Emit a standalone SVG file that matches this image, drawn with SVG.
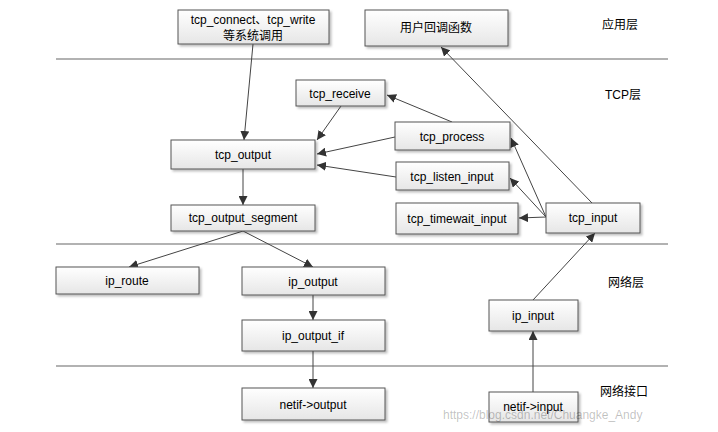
<svg xmlns="http://www.w3.org/2000/svg" width="718" height="432" viewBox="0 0 718 432">
<style>
.b{fill:url(#g);stroke:#555;stroke-width:1;filter:url(#s)}
.t{font-family:"Liberation Sans","Noto Sans CJK SC",sans-serif;font-size:12px;fill:#000;text-anchor:middle}
.l{font-family:"Liberation Sans","Noto Sans CJK SC",sans-serif;font-size:12px;fill:#000}
.c{stroke:#444;stroke-width:1;fill:none;marker-end:url(#a)}
.sep{stroke:#999;stroke-width:1.5}
</style>
<defs>
<linearGradient id="g" x1="0" y1="0" x2="0" y2="1"><stop offset="0" stop-color="#fff"/><stop offset="1" stop-color="#e6e6e6"/></linearGradient>
<filter id="s" x="-10%" y="-20%" width="125%" height="150%"><feDropShadow dx="2" dy="2" stdDeviation="1" flood-color="#000" flood-opacity="0.25"/></filter>
<marker id="a" viewBox="0 0 10 10" refX="10" refY="5" markerWidth="9" markerHeight="9" orient="auto" markerUnits="userSpaceOnUse"><path d="M0,0L10,5L0,10z" fill="#333"/></marker>
</defs>
<g id="separators">
<line class="sep" x1="56" y1="59" x2="668" y2="59"/>
<line class="sep" x1="56" y1="244" x2="668" y2="244"/>
<line class="sep" x1="56" y1="366" x2="668" y2="366"/>
</g>
<g id="layer-labels">
<text class="l" x="602" y="29">应用层</text>
<text class="l" x="605" y="99">TCP层</text>
<text class="l" x="608" y="287">网络层</text>
<text class="l" x="600" y="396">网络接口</text>
</g>
<g id="connectors">
<line class="c" x1="253" y1="44" x2="244" y2="140"/>
<line class="c" x1="341" y1="106" x2="317" y2="140"/>
<line class="c" x1="395" y1="137" x2="317" y2="154"/>
<line class="c" x1="396" y1="177" x2="317" y2="165"/>
<line class="c" x1="243" y1="169" x2="243" y2="205"/>
<line class="c" x1="243" y1="231" x2="129" y2="267"/>
<line class="c" x1="243" y1="231" x2="313" y2="267"/>
<line class="c" x1="313" y1="295" x2="313" y2="320"/>
<line class="c" x1="313" y1="351" x2="313" y2="388"/>
<line class="c" x1="533" y1="392" x2="533" y2="331"/>
<line class="c" x1="533" y1="300" x2="595" y2="233"/>
<line class="c" x1="546" y1="217" x2="519" y2="218"/>
<line class="c" x1="546" y1="217" x2="510" y2="178"/>
<line class="c" x1="546" y1="217" x2="511" y2="138"/>
<line class="c" x1="592" y1="203" x2="441" y2="47"/>
<line class="c" x1="452" y1="122" x2="387" y2="95"/>
</g>
<g id="n1"><rect class="b" x="178" y="10" width="151" height="34"/><text class="t" x="253" y="24">tcp_connect、tcp_write</text><text class="t" x="253" y="40">等系统调用</text></g>
<g id="n2"><rect class="b" x="365" y="10" width="143" height="36"/><text class="t" x="436" y="32">用户回调函数</text></g>
<g id="n3"><rect class="b" x="296" y="80" width="89" height="26"/><text class="t" x="340" y="98">tcp_receive</text></g>
<g id="n4"><rect class="b" x="171" y="140" width="144" height="29"/><text class="t" x="243" y="159">tcp_output</text></g>
<g id="n5"><rect class="b" x="395" y="122" width="115" height="28"/><text class="t" x="452" y="141">tcp_process</text></g>
<g id="n6"><rect class="b" x="396" y="162" width="113" height="28"/><text class="t" x="452" y="181">tcp_listen_input</text></g>
<g id="n7"><rect class="b" x="396" y="203" width="122" height="31"/><text class="t" x="457" y="223">tcp_timewait_input</text></g>
<g id="n8"><rect class="b" x="546" y="203" width="94" height="30"/><text class="t" x="593" y="222">tcp_input</text></g>
<g id="n9"><rect class="b" x="171" y="205" width="144" height="26"/><text class="t" x="243" y="222">tcp_output_segment</text></g>
<g id="n10"><rect class="b" x="56" y="267" width="143" height="27"/><text class="t" x="127" y="285">ip_route</text></g>
<g id="n11"><rect class="b" x="242" y="267" width="143" height="28"/><text class="t" x="313" y="286">ip_output</text></g>
<g id="n12"><rect class="b" x="242" y="320" width="143" height="31"/><text class="t" x="313" y="340">ip_output_if</text></g>
<g id="n13"><rect class="b" x="489" y="300" width="89" height="31"/><text class="t" x="533" y="320">ip_input</text></g>
<g id="n14"><rect class="b" x="242" y="388" width="143" height="32"/><text class="t" x="313" y="409">netif-&gt;output</text></g>
<g id="n15"><rect class="b" x="489" y="392" width="89" height="30"/><text class="t" x="533" y="411">netif-&gt;input</text></g>
<text x="443" y="419" style="font-family:'Liberation Sans',sans-serif;font-size:12px;fill:#000;fill-opacity:0.25">https://blog.csdn.net/Chuangke_Andy</text>
</svg>
